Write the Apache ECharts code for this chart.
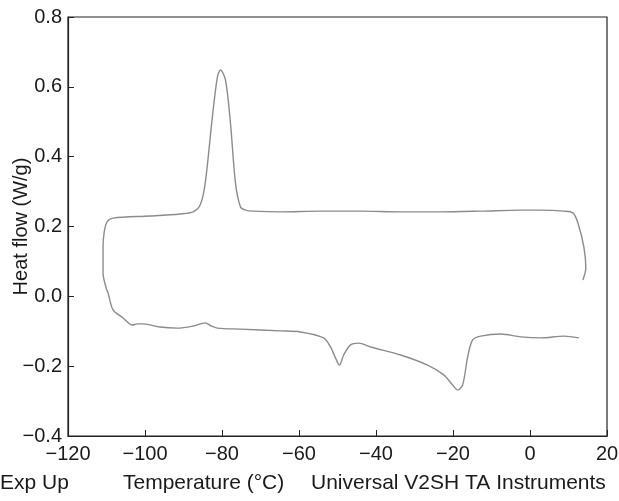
<!DOCTYPE html>
<html>
<head>
<meta charset="utf-8">
<script src="https://cdn.jsdelivr.net/npm/echarts@6/dist/echarts.min.js"></script>
<style>html,body{margin:0;padding:0;background:#fff}#c{width:619px;height:501px}</style>
</head>
<body>
<div id="c"></div>
<script>
// DSC loop traced in drawing order: cooling (upper trace), then heating (lower trace)
const temperature = [
  13.75, 14.5, 14.0, 12.45, 11.15, 8.8, 2.8, -2.4, -12.8, -23.2, -33.6, -44.0, -54.4, -64.8,
  -71.9, -73.9, -75.2, -76.5, -77.8, -79.1, -80.4, -81.2, -82.5, -84.35, -85.65, -87.5,
  -90.9, -98.7, -108.3, -109.85, -110.6, -110.9, -110.9, -110.1, -109.6, -108.3, -105.7,
  -103.35, -102.0, -100.5, -96.1, -91.6, -87.5, -84.35, -82.8, -81.2, -75.2, -64.8, -59.6,
  -53.6, -51.8, -50.5, -49.5, -48.4, -46.6, -44.5, -41.4, -33.6, -26.6, -22.4, -20.1,
  -18.8, -17.5, -16.2, -14.9, -12.8, -7.6, -2.4, 2.8, 8.8, 12.7
];
const heatFlow = [
  0.047, 0.081, 0.141, 0.210, 0.239, 0.244, 0.247, 0.247, 0.244, 0.242, 0.242, 0.244, 0.244, 0.242,
  0.244, 0.247, 0.256, 0.325, 0.496, 0.620, 0.648, 0.628, 0.514, 0.325, 0.262, 0.242,
  0.236, 0.230, 0.224, 0.213, 0.184, 0.141, 0.067, 0.024, 0.010, -0.039, -0.062,
  -0.082, -0.079, -0.079, -0.088, -0.091, -0.085, -0.076, -0.085, -0.091, -0.094, -0.099, -0.102,
  -0.119, -0.145, -0.177, -0.197, -0.168, -0.139, -0.134, -0.145, -0.168, -0.197, -0.225, -0.254,
  -0.268, -0.254, -0.174, -0.125, -0.114, -0.108, -0.116, -0.119, -0.114, -0.119
];
const xTicks = { min: -120, max: 20, step: 20 };
const yTicks = { min: -0.4, max: 0.8, step: 0.2 };
const yTitle = 'Heat flow (W/g)';
const footer = ['Exp Up', 'Temperature (°C)', 'Universal V2SH TA Instruments'];

const pts = temperature.map((t, i) => [t, heatFlow[i]]);
const minus = s => String(s).replace('-', '\u2212');
const font = 'Liberation Sans, Arial, Helvetica, sans-serif';
const fs = 20;
const ffs = 21;

const chart = echarts.init(document.getElementById('c'), null, { renderer: 'canvas' });
chart.setOption({
  animation: false,
  backgroundColor: '#fff',
  grid: { left: 68, right: 12, top: 17, bottom: 65, containLabel: false, outerBoundsMode: 'none',
    show: true, borderColor: '#222', borderWidth: 1.2 },
  xAxis: {
    type: 'value', min: xTicks.min, max: xTicks.max, interval: xTicks.step,
    axisLine: { show: true, onZero: false, lineStyle: { color: '#222', width: 1.2 } },
    axisTick: { show: true, inside: true, length: 6, lineStyle: { color: '#222' } },
    splitLine: { show: false },
    axisLabel: { color: '#1a1a1a', fontSize: fs, fontFamily: font, margin: 8,
      formatter: v => minus(Math.round(v)) }
  },
  yAxis: {
    type: 'value', min: yTicks.min, max: yTicks.max, interval: yTicks.step,
    name: yTitle, nameLocation: 'middle', nameGap: 37, nameMoveOverlap: false,
    nameTextStyle: { color: '#1a1a1a', fontSize: fs, fontFamily: font },
    axisLine: { show: true, onZero: false, lineStyle: { color: '#222', width: 1.2 } },
    axisTick: { show: true, inside: true, length: 6, lineStyle: { color: '#222' } },
    splitLine: { show: false },
    axisLabel: { color: '#1a1a1a', fontSize: fs, fontFamily: font, margin: 6,
      formatter: v => minus(v.toFixed(1)) }
  },
  series: [{
    type: 'line', data: pts, smooth: 0.3, symbol: 'none',
    lineStyle: { color: '#8c8c8c', width: 1.4 }
  }],
  graphic: [
    { type: 'text', left: 0, top: 473, style: { text: footer[0], fontSize: ffs, fontFamily: font, fill: '#1a1a1a' } },
    { type: 'text', left: 123, top: 473, style: { text: footer[1], fontSize: ffs, fontFamily: font, fill: '#1a1a1a' } },
    { type: 'text', left: 311, top: 473, style: { text: footer[2], fontSize: ffs, fontFamily: font, fill: '#1a1a1a' } }
  ]
});
</script>
</body>
</html>
